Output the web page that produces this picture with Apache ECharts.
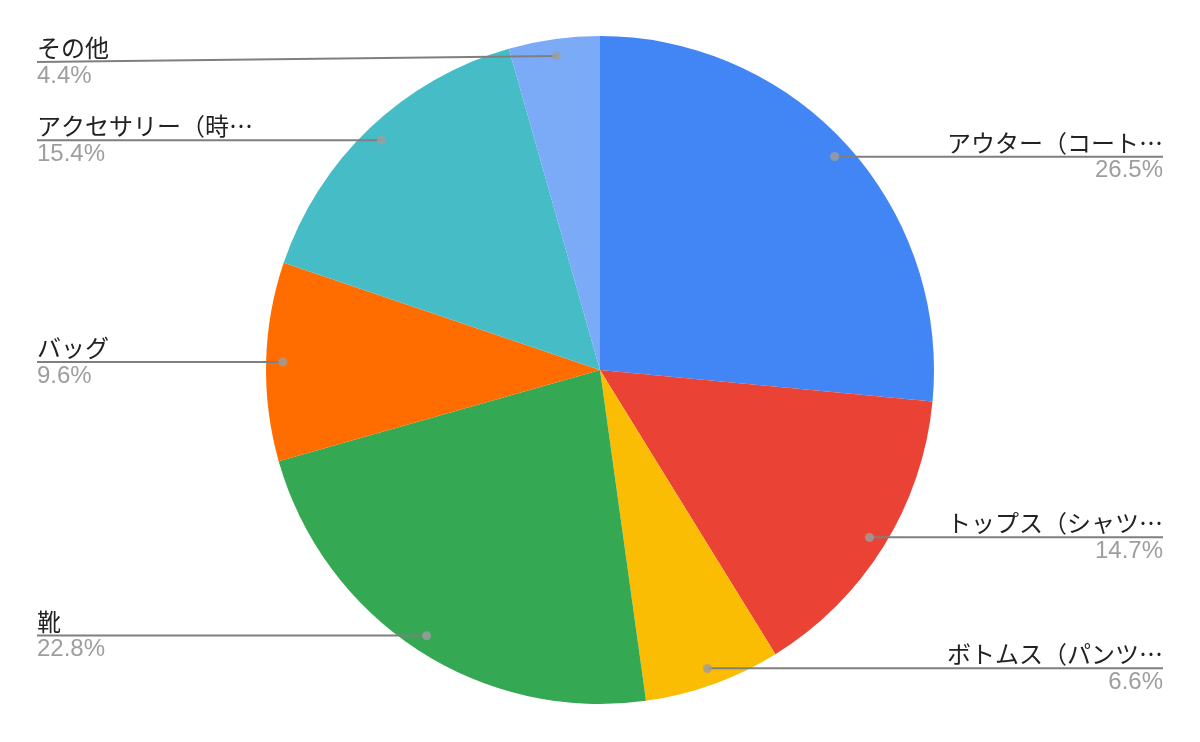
<!DOCTYPE html>
<html><head><meta charset="utf-8">
<script src="https://cdn.jsdelivr.net/npm/echarts@6/dist/echarts.min.js"></script>
<style>html,body{margin:0;padding:0;background:#fff}#c{width:1200px;height:742px}</style>
</head><body><div id="c"></div>
<script>
const categories = ['アウター（コート…', 'トップス（シャツ…', 'ボトムス（パンツ…', '靴', 'バッグ', 'アクセサリー（時…', 'その他'];
const values = [26.5, 14.7, 6.6, 22.8, 9.6, 15.4, 4.4];
const colors = ['#4285F4', '#EA4335', '#FBBC04', '#34A853', '#FF6D01', '#46BDC6', '#7BAAF7'];

const total = values.reduce((a, b) => a + b, 0);
const mids = [];
let acc = 0;
values.forEach(v => { mids.push(acc + v / 2); acc += v; });

const pieData = categories.map((n, i) => ({ name: n, value: values[i], itemStyle: { color: colors[i] } }));
const labelData = categories.map((n, i) => ({ name: n, value: values[i] }));

const TOP_MARGIN = 36;

const chart = echarts.init(document.getElementById('c'), null, { renderer: 'canvas' });
chart.setOption({
  animation: false,
  backgroundColor: '#ffffff',
  polar: { center: ['50%', 370], radius: 334 },
  angleAxis: { type: 'value', min: 0, max: total, startAngle: 90, clockwise: true, show: false },
  radiusAxis: { type: 'value', min: 0, max: 1, show: false },
  series: [
    {
      type: 'pie', center: ['50%', 370], radius: 334, startAngle: 90, clockwise: true,
      data: pieData, label: { show: false }, labelLine: { show: false },
      itemStyle: { borderWidth: 0 }, silent: true, z: 1
    },
    {
      type: 'pie', center: ['50%', 370], radius: 317, startAngle: 90, clockwise: true,
      data: labelData, percentPrecision: 1, silent: true, z: 3,
      itemStyle: { color: 'rgba(0,0,0,0)', borderWidth: 0 },
      label: {
        show: true, position: 'outer', alignTo: 'edge', edgeDistance: 37,
        formatter: '{n|{b}}\n{p|{d}%}',
        rich: {
          n: { fontSize: 24, lineHeight: 28, color: '#222222', fontFamily: '"Noto Sans CJK JP", "Liberation Sans", sans-serif' },
          p: { fontSize: 24, lineHeight: 28, color: '#9e9e9e', fontFamily: '"Liberation Sans", Arial, sans-serif' }
        }
      },
      labelLine: { show: true, length: 0, length2: 10, smooth: false, lineStyle: { color: '#7f7f7f', width: 2 } },
      labelLayout: function (p) {
        const pts = p.labelLinePoints;
        if (!pts) return {};
        const r = p.labelRect;
        const goesRight = pts[2][0] >= pts[0][0];
        const endX = goesRight ? r.x + r.width : r.x;
        const shift = r.y < TOP_MARGIN ? TOP_MARGIN - r.y : 0;
        const lineY = r.y + r.height / 2 + shift;
        const res = { labelLinePoints: [pts[0], pts[0], [endX, lineY]] };
        if (shift) res.y = lineY;
        return res;
      }
    },
    {
      type: 'scatter', coordinateSystem: 'polar', symbolSize: 9, z: 5, silent: true,
      itemStyle: { color: '#9e9e9e' },
      data: mids.map(m => [0.95, m])
    }
  ]
});
</script></body></html>
